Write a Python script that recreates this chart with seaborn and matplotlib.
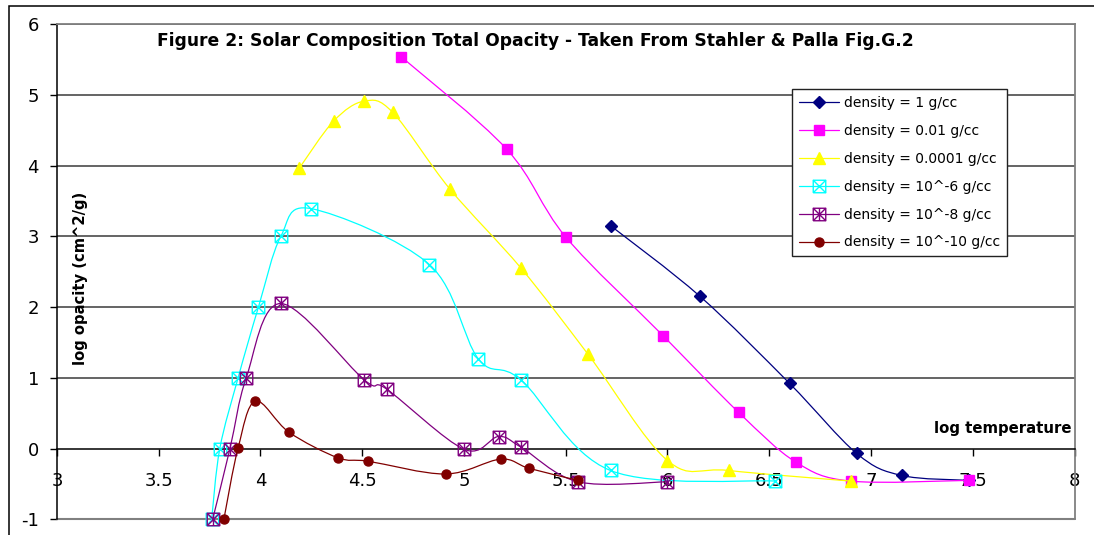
"""
Solar composition total opacity (Stahler & Palla Fig. G.2), Excel-style chart
"""

import numpy as np
import matplotlib
matplotlib.use("Agg")
import matplotlib.pyplot as plt
import seaborn as sns
from matplotlib.path import Path
from matplotlib.patches import PathPatch, Rectangle
from matplotlib.lines import Line2D

# ---- data (log T, log kappa) ----
rho_1_x = [5.72, 6.16, 6.60, 6.93, 7.15, 7.48]
rho_1_y = [3.15, 2.15, 0.92, -0.07, -0.38, -0.45]

rho_1e2_x = [4.69, 5.21, 5.50, 5.98, 6.35, 6.63, 6.90, 7.48]
rho_1e2_y = [5.54, 4.23, 2.99, 1.59, 0.51, -0.19, -0.46, -0.45]

rho_1e4_x = [4.19, 4.36, 4.51, 4.65, 4.93, 5.28, 5.61, 6.00, 6.30, 6.90]
rho_1e4_y = [3.96, 4.63, 4.91, 4.75, 3.67, 2.55, 1.33, -0.17, -0.31, -0.46]

rho_1e6_x = [3.76, 3.80, 3.89, 3.99, 4.10, 4.25, 4.83, 5.07, 5.28, 5.72, 6.53]
rho_1e6_y = [-1.0, 0.0, 1.0, 2.0, 3.0, 3.39, 2.60, 1.27, 0.97, -0.31, -0.46]

rho_1e8_x = [3.765, 3.85, 3.93, 4.10, 4.51, 4.62, 5.00, 5.17, 5.28, 5.56, 6.00]
rho_1e8_y = [-1.0, 0.0, 1.0, 2.05, 0.97, 0.84, -0.01, 0.17, 0.02, -0.47, -0.47]

rho_1e10_x = [3.82, 3.89, 3.975, 4.14, 4.38, 4.53, 4.91, 5.18, 5.32, 5.56]
rho_1e10_y = [-1.0, 0.01, 0.67, 0.23, -0.13, -0.18, -0.36, -0.15, -0.28, -0.45]

labels = ["density = 1 g/cc", "density = 0.01 g/cc", "density = 0.0001 g/cc",
          "density = 10^-6 g/cc", "density = 10^-8 g/cc", "density = 10^-10 g/cc"]

x_ticks = [3, 3.5, 4, 4.5, 5, 5.5, 6, 6.5, 7, 7.5, 8]
x_tick_labels = ["3", "3.5", "4", "4.5", "5", "5.5", "6", "6.5", "7", "7.5", "8"]
y_ticks = [-1, 0, 1, 2, 3, 4, 5, 6]


# excel-ish marker shapes: box with a cross, box with an asterisk
def box_marker(star=False):
    verts = [(-1, -1), (1, -1), (1, 1), (-1, 1), (-1, -1),
             (-1, -1), (1, 1), (-1, 1), (1, -1)]
    codes = [Path.MOVETO, Path.LINETO, Path.LINETO, Path.LINETO, Path.LINETO,
             Path.MOVETO, Path.LINETO, Path.MOVETO, Path.LINETO]
    if star:
        verts += [(0, -1), (0, 1)]
        codes += [Path.MOVETO, Path.LINETO]
    return Path(verts, codes)


def smooth_path(xs, ys):
    # excel "smoothed line": cubic bezier through the points
    pts = np.column_stack([xs, ys]).astype(float)
    n = len(pts)
    verts = [pts[0]]
    codes = [Path.MOVETO]
    for i in range(n - 1):
        p0 = pts[max(i - 1, 0)]
        p1 = pts[i]
        p2 = pts[i + 1]
        p3 = pts[min(i + 2, n - 1)]
        verts += [p1 + (p2 - p0) / 6, p2 - (p3 - p1) / 6, p2]
        codes += [Path.CURVE4] * 3
    return Path(verts, codes)


series = [
    (rho_1_x, rho_1_y, "#000080", dict(marker="D", markersize=6, markerfacecolor="#000080")),
    (rho_1e2_x, rho_1e2_y, "#FF00FF", dict(marker="s", markersize=7, markerfacecolor="#FF00FF")),
    (rho_1e4_x, rho_1e4_y, "#FFFF00", dict(marker="^", markersize=8, markerfacecolor="#FFFF00")),
    (rho_1e6_x, rho_1e6_y, "#00FFFF", dict(marker=box_marker(), markersize=9, markerfacecolor="none")),
    (rho_1e8_x, rho_1e8_y, "#800080", dict(marker=box_marker(True), markersize=9, markerfacecolor="none")),
    (rho_1e10_x, rho_1e10_y, "#800000", dict(marker="o", markersize=6.5, markerfacecolor="#800000")),
]

sns.set_style("white")
plt.rcParams['font.family'] = ['DejaVu Sans']
plt.rcParams['axes.unicode_minus'] = False
plt.rcParams['text.color'] = 'black'
plt.rcParams['xtick.color'] = 'black'
plt.rcParams['ytick.color'] = 'black'

W, H = 1094, 535
fig = plt.figure(figsize=(W / 100, H / 100), dpi=100)
ax = fig.add_axes([57 / W, (H - 519.3) / H, (1074.5 - 57) / W, (519.3 - 24) / H])

handles = []
for k, (xs, ys, col, mk) in enumerate(series):
    ax.add_patch(PathPatch(smooth_path(xs, ys), facecolor="none", edgecolor=col,
                           lw=0.9, zorder=3 + k))
    sns.lineplot(x=xs, y=ys, ax=ax, linestyle="", color=col, markeredgecolor=col,
                 markeredgewidth=1.0, zorder=3.5 + k, clip_on=False, **mk)
    handles.append(Line2D([], [], color=col, lw=0.9, markeredgecolor=col,
                          markeredgewidth=1.0, **mk))

ax.set_xlim(3, 8)
ax.set_ylim(-1, 6)
ax.set_xticks(x_ticks)
ax.set_xticklabels(x_tick_labels)
ax.set_yticks(y_ticks)

# gridlines, excel style
for yv in y_ticks[2:]:
    ax.axhline(yv, color="#3a3a3a", lw=1.1, zorder=1)

# x axis crosses at y=0
ax.spines['bottom'].set_position(('data', 0))
ax.spines['bottom'].set_color("black")
ax.spines['bottom'].set_linewidth(1.1)
ax.spines['left'].set_color("black")
ax.spines['left'].set_linewidth(1.1)
for s in ['top', 'right']:
    ax.spines[s].set_color("#808080")
    ax.spines[s].set_linewidth(1.3)
ax.axhline(-1, color="#808080", lw=1.5, zorder=2, clip_on=False)

ax.tick_params(axis='x', direction='out', length=5, width=1, color='black',
               pad=12, labelsize=13, bottom=True, labelcolor='black')
ax.tick_params(axis='y', direction='out', length=5, width=1, color='black',
               pad=8, labelsize=13, left=True, labelcolor='black')
ax.set_xlabel("")
ax.set_ylabel("")

fig.text(535 / W, 1 - 46 / H,
         "Figure 2: Solar Composition Total Opacity - Taken From Stahler & Palla Fig.G.2",
         ha='center', va='baseline', fontsize=12.3, fontweight='bold', color='black')
fig.text(80 / W, 1 - 278 / H, "log opacity (cm^2/g)", rotation=90,
         ha='center', va='center', fontsize=10.6, fontweight='bold', color='black')
fig.text(1071 / W, 1 - 433 / H, "log temperature", ha='right', va='baseline',
         fontsize=10.7, fontweight='bold', color='black')

leg = fig.legend(handles, labels, loc='upper left',
                 bbox_to_anchor=(792 / W, 1 - 89 / H), fontsize=10,
                 handlelength=2.9, handletextpad=0.35, labelspacing=1.0,
                 borderpad=0.5, borderaxespad=0, fancybox=False,
                 framealpha=1, edgecolor="#222222")
leg.get_frame().set_linewidth(1.0)
for t in leg.get_texts():
    t.set_color('black')

# chart area border
fig.add_artist(Rectangle((9 / W, -0.1), 1.2, 1 - 5.5 / H + 0.1,
                         transform=fig.transFigure, fill=False,
                         edgecolor="black", lw=1.1))

fig.savefig("out.png", dpi=100)
